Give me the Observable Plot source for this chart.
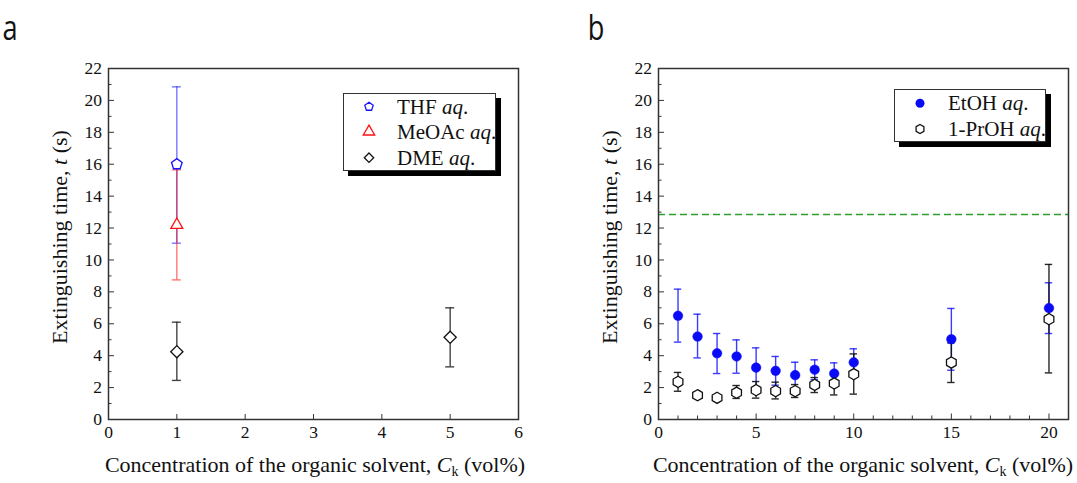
<!DOCTYPE html>
<html><head><meta charset="utf-8">
<script src="https://cdn.jsdelivr.net/npm/d3@7"></script>
<script src="https://cdn.jsdelivr.net/npm/@observablehq/plot@0.6"></script>
<style>
html,body{margin:0;padding:0;background:#fff;}
#wrap{position:relative;width:1077px;height:483px;overflow:hidden;background:#fff;}
.panel{position:absolute;top:0;}
.legend{position:absolute;box-sizing:border-box;background:#fff;border:1px solid #333;box-shadow:5px 5px 0 #000;}
.legend svg{display:block;}
</style></head><body><div id="wrap"></div>
<script>
// ---------- data (panel a) ----------
const thfX = [1], thfY = [16.0], thfLo = [11.05], thfHi = [20.85];
const meoacX = [1], meoacY = [12.2], meoacLo = [8.75], meoacHi = [15.65];
const dmeX = [1, 5], dmeY = [4.25, 5.15], dmeLo = [2.45, 3.3], dmeHi = [6.1, 7.0];
// ---------- data (panel b) ----------
const conc = [1, 2, 3, 4, 5, 6, 7, 8, 9, 10, 15, 20];
const etohY  = [6.5, 5.2, 4.15, 3.95, 3.25, 3.05, 2.78, 3.12, 2.88, 3.58, 5.03, 6.98];
const etohHi = [8.17, 6.6, 5.39, 4.99, 4.49, 3.95, 3.59, 3.74, 3.55, 4.43, 6.96, 8.57];
const etohLo = [4.85, 3.86, 2.88, 2.9, 2.0, 2.15, 1.97, 2.5, 2.2, 2.72, 3.09, 5.39];
const prohY  = [2.36, 1.52, 1.36, 1.68, 1.84, 1.78, 1.78, 2.17, 2.26, 2.84, 3.57, 6.29];
const prohHi = [2.95, 1.7, 1.55, 2.13, 2.38, 2.34, 2.19, 2.63, 2.92, 4.11, 4.8, 9.72];
const prohLo = [1.77, 1.35, 1.2, 1.32, 1.34, 1.29, 1.38, 1.69, 1.54, 1.59, 2.32, 2.92];
const refLine = [12.85];
// ---------- ticks / labels ----------
const yMajor = [0, 2, 4, 6, 8, 10, 12, 14, 16, 18, 20, 22];
const yMinor = [1, 3, 5, 7, 9, 11, 13, 15, 17, 19, 21];
const xTicksA = [0, 1, 2, 3, 4, 5, 6];
const xMajorB = [0, 5, 10, 15, 20];
const xMinorB = [1, 2, 3, 4, 6, 7, 8, 9, 11, 12, 13, 14, 16, 17, 18, 19, 21];
const legendA = [["THF", "pentagon"], ["MeOAc", "triangle"], ["DME", "diamond"]];
const legendB = [["EtOH", "dot"], ["1-PrOH", "hexagon"]];

const table = (X, Y, Lo, Hi) => X.map((x, i) => ({x, y: Y[i], lo: Lo[i], hi: Hi[i]}));
const thf = table(thfX, thfY, thfLo, thfHi);
const meoac = table(meoacX, meoacY, meoacLo, meoacHi);
const dme = table(dmeX, dmeY, dmeLo, dmeHi);
const etoh = table(conc, etohY, etohLo, etohHi);
const proh = table(conc, prohY, prohLo, prohHi);

function poly(n, rot) {
  return {draw(ctx, size) {
    const R = Math.sqrt(size / Math.PI);
    for (let k = 0; k < n; k++) {
      const a = rot + k * 2 * Math.PI / n;
      const px = R * Math.cos(a), py = R * Math.sin(a);
      k ? ctx.lineTo(px, py) : ctx.moveTo(px, py);
    }
    ctx.closePath();
  }};
}
const pentagon = poly(5, -Math.PI / 2);
const hexagon = poly(6, -Math.PI / 2);
const triangle = poly(3, -Math.PI / 2);
const diamond = poly(4, -Math.PI / 2);

const serif = "'Liberation Serif', 'Times New Roman', serif";
const baseStyle = {fontFamily: serif, fontSize: "17px", color: "#111", background: "none", overflow: "visible"};

function errorMarks(data, color, opacity, cap) {
  return [
    Plot.ruleX(data, {x: "x", y1: "lo", y2: "hi", stroke: color, strokeOpacity: opacity, strokeWidth: 1.4}),
    Plot.ruleY(data, {y: "hi", x1: "x", x2: "x", insetLeft: -cap, insetRight: -cap, stroke: color, strokeOpacity: opacity, strokeWidth: 1.4}),
    Plot.ruleY(data, {y: "lo", x1: "x", x2: "x", insetLeft: -cap, insetRight: -cap, stroke: color, strokeOpacity: opacity, strokeWidth: 1.4})
  ];
}
const axisCol = "#333";

const plotA = Plot.plot({
  width: 540, height: 483, marginLeft: 108, marginRight: 22, marginTop: 68, marginBottom: 64,
  x: {domain: [0, 6]}, y: {domain: [0, 22]},
  style: baseStyle,
  marks: [
    Plot.axisY(yMajor, {tickSize: -6, tickPadding: 12.5, label: null, stroke: axisCol, fill: "#111"}),
    Plot.axisY(yMinor, {tickSize: -3.5, tickFormat: () => "", label: null, stroke: axisCol}),
    Plot.axisX(xTicksA, {tickSize: -5, tickPadding: 11, label: null, stroke: axisCol, fill: "#111"}),
    ...errorMarks(thf, "#1a1aff", 0.6, 4.5),
    ...errorMarks(meoac, "#ff1a1a", 0.6, 4.5),
    ...errorMarks(dme, "#222", 0.85, 4.5),
    Plot.dot(thf, {x: "x", y: "y", symbol: pentagon, r: 5.6, stroke: "#1515ff", fill: "#fff", strokeWidth: 1.3}),
    Plot.dot(meoac, {x: "x", y: "y", symbol: triangle, r: 6.9, stroke: "#ff1010", fill: "#fff", strokeWidth: 1.3}),
    Plot.dot(dme, {x: "x", y: "y", symbol: diamond, r: 6.1, stroke: "#111", fill: "#fff", strokeWidth: 1.3}),
    Plot.frame({stroke: axisCol, strokeWidth: 1.5})
  ]
});

const plotB = Plot.plot({
  width: 537, height: 483, marginLeft: 118, marginRight: 9, marginTop: 68, marginBottom: 64,
  x: {domain: [0, 21]}, y: {domain: [0, 22]},
  style: baseStyle,
  marks: [
    Plot.axisY(yMajor, {tickSize: -6, tickPadding: 12.5, label: null, stroke: axisCol, fill: "#111"}),
    Plot.axisY(yMinor, {tickSize: -3.5, tickFormat: () => "", label: null, stroke: axisCol}),
    Plot.axisX(xMajorB, {tickSize: -5.5, tickPadding: 11.5, label: null, stroke: axisCol, fill: "#111"}),
    Plot.axisX(xMinorB, {tickSize: -3.5, tickFormat: () => "", label: null, stroke: axisCol}),
    Plot.ruleY(refLine, {stroke: "#2e9e2e", strokeWidth: 1.4, strokeDasharray: "7,4"}),
    ...errorMarks(etoh, "#1a1aff", 0.85, 3.7),
    ...errorMarks(proh, "#111", 0.9, 3.7),
    Plot.dot(etoh, {x: "x", y: "y", r: 4.8, fill: "#0a0af5", stroke: "#0a0af5", strokeWidth: 0.5}),
    Plot.dot(proh, {x: "x", y: "y", symbol: hexagon, r: 5.6, stroke: "#111", fill: "#fff", strokeWidth: 1.3}),
    Plot.frame({stroke: axisCol, strokeWidth: 1.5})
  ]
});

const wrap = document.getElementById("wrap");
plotA.classList.add("panel"); plotA.style.left = "0px";
plotB.classList.add("panel"); plotB.style.left = "540px";
wrap.appendChild(plotA); wrap.appendChild(plotB);
// force serif tick labels
d3.selectAll([plotA, plotB]).selectAll("text")
  .style("font-family", serif).style("font-size", "17.5px");

function addLabels(svg, xc, yLabX, letterX, letter) {
  const s = d3.select(svg);
  const yl = s.append("text").attr("transform", `translate(${yLabX},237) rotate(-90)`)
    .attr("text-anchor", "middle").style("font-family", serif).style("font-size", "22px").attr("fill", "#111");
  yl.append("tspan").text("Extinguishing time, ");
  yl.append("tspan").style("font-style", "italic").text("t");
  yl.append("tspan").text(" (s)");
  const xl = s.append("text").attr("x", xc).attr("y", 472).attr("text-anchor", "middle")
    .style("font-family", serif).style("font-size", "22px").attr("fill", "#111");
  xl.append("tspan").text("Concentration of the organic solvent, ");
  xl.append("tspan").style("font-style", "italic").text("C");
  xl.append("tspan").style("font-size", "14px").attr("dy", 4).text("k");
  xl.append("tspan").attr("dy", -4).text(" (vol%)");
  s.append("text").attr("transform", `translate(${letterX},40) scale(0.8,1)`)
    .style("font-family", "'Open Sans', 'Noto Sans', sans-serif").style("font-size", "34px").attr("fill", "#111").text(letter);
}
addLabels(plotA, 315, 67, 10, "a");
addLabels(plotB, 323, 77, 56, "b");

function drawSym(g, kind, cx, cy) {
  const p = d3.path();
  if (kind === "dot") {
    g.append("circle").attr("cx", cx).attr("cy", cy).attr("r", 4.5).attr("fill", "#0a0af5");
    return;
  }
  const spec = {pentagon: [pentagon, 4.4, "#1515ff"], triangle: [triangle, 6.6, "#ff1010"], diamond: [diamond, 4.7, "#111"], hexagon: [hexagon, 4.5, "#111"]}[kind];
  spec[0].draw(p, spec[1] * spec[1] * Math.PI);
  g.append("path").attr("d", p.toString()).attr("transform", `translate(${cx},${cy})`)
    .attr("fill", "#fff").attr("stroke", spec[2]).attr("stroke-width", 1.3);
}
function legend(items, left, top, w, h, rows) {
  const div = document.createElement("div");
  div.className = "legend";
  Object.assign(div.style, {left: left + "px", top: top + "px", width: w + "px", height: h + "px"});
  wrap.appendChild(div);
  const svg = d3.select(div).append("svg").attr("width", w - 2).attr("height", h - 2);
  items.forEach(([name, kind], i) => {
    const cy = rows[i] - 1;
    drawSym(svg, kind, 25, cy);
    const t = svg.append("text").attr("x", 53).attr("y", cy + 7).style("font-family", serif).style("font-size", "21px").attr("fill", "#111");
    t.append("tspan").text(name + " ");
    t.append("tspan").style("font-style", "italic").text("aq");
    t.append("tspan").text(".");
  });
}
legend(legendA, 343, 93, 153, 78, [13.7, 38.7, 64.7]);
legend(legendB, 894, 89, 152, 53, [14.3, 40]);
</script></body></html>
